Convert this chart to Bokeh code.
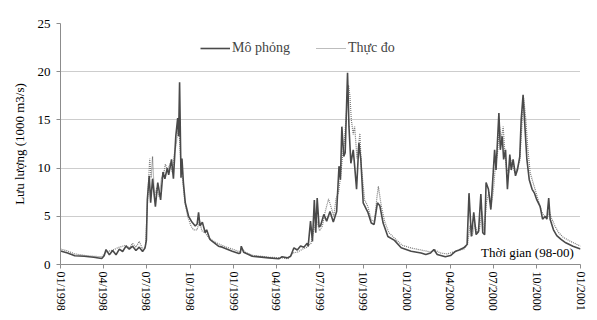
from bokeh.plotting import figure
from bokeh.models import ColumnDataSource, FixedTicker, Legend, LegendItem, Label
from bokeh.embed import file_html
from bokeh.resources import INLINE

# Days since 01/01/1998
sim_days = [0, 15, 30, 50, 70, 87, 92, 96, 103, 110, 117, 124, 131, 138, 145, 152, 159, 166, 173, 178,
            181, 183, 187, 190, 194, 200, 205, 211, 216, 220, 225, 228, 234, 238, 243, 247, 249, 251, 254,
            256, 259, 263, 270, 277, 284, 288, 291, 294, 299, 305, 308, 315, 320, 333, 341, 362, 376, 379,
            381, 386, 404, 439, 460, 467, 478, 485, 492, 499, 506, 513, 520, 522, 527, 531, 535, 538, 541,
            545, 548, 555, 561, 568, 575, 582, 587, 590, 593, 597, 600, 605, 608, 612, 617, 620, 624, 629,
            633, 638, 645, 648, 655, 661, 668, 673, 680, 690, 704, 718, 739, 760, 770, 780, 787, 794, 811,
            822, 833, 840, 850, 857, 861, 866, 871, 876, 881, 886, 890, 894, 897, 902, 907, 912, 915, 918,
            924, 927, 931, 934, 938, 942, 947, 950, 954, 959, 963, 968, 971, 975, 978, 983, 988, 994, 999,
            1004, 1011, 1016, 1022, 1025, 1029, 1032, 1039, 1046, 1055, 1065, 1080, 1096]
sim_vals = [1.4, 1.2, 0.9, 0.85, 0.75, 0.62, 0.9, 1.55, 1.0, 1.45, 1.0, 1.6, 1.35, 1.9, 1.6, 1.9, 1.45, 1.8, 1.35, 1.7,
            2.5, 6.7, 9.2, 6.4, 8.9, 6.0, 8.5, 6.7, 9.6, 8.9, 10.0, 9.3, 10.9, 8.9, 13.3, 15.2, 13.3, 18.9, 9.0,
            11.0, 8.5, 6.4, 5.0, 4.4, 4.0, 4.2, 5.4, 4.0, 4.4, 3.3, 3.6, 2.6, 2.4, 1.9, 1.8, 1.38, 1.14, 1.2,
            1.9, 1.28, 0.86, 0.69, 0.59, 0.8, 0.69, 0.86, 1.73, 1.5, 1.93, 1.8, 2.2, 1.9, 4.5, 2.4, 6.7, 3.3, 6.9,
            3.9, 4.0, 5.2, 4.5, 5.5, 4.4, 5.5, 10.2, 8.8, 14.3, 11.2, 11.6, 19.9, 14.3, 10.5, 11.9, 10.2, 7.8, 12.6,
            10.9, 6.4, 5.7, 5.4, 4.3, 4.15, 6.4, 6.1, 4.3, 2.9, 2.5, 1.73, 1.38, 1.2, 1.04, 1.2, 1.56, 1.04, 0.8,
            0.93, 1.38, 1.5, 1.73, 2.07, 7.4, 2.9, 5.4, 3.1, 3.4, 7.3, 3.3, 3.1, 8.5, 7.8, 5.7, 9.5, 11.9, 9.8,
            15.7, 11.9, 13.3, 10.9, 11.9, 7.8, 11.4, 9.8, 10.9, 9.2, 9.8, 11.2, 15.0, 17.6, 15.0, 10.9, 8.8, 7.8, 7.4,
            6.7, 6.0, 4.7, 5.0, 4.7, 6.9, 4.7, 3.6, 3.0, 2.6, 2.25, 1.9, 1.6]

obs_days = [0, 15, 30, 50, 70, 87, 96, 110, 124, 138, 145, 152, 159, 166, 173, 179, 182, 185, 188, 191, 194,
            198, 203, 208, 213, 218, 221, 226, 231, 236, 240, 244, 249, 253, 257, 262, 268, 275, 280, 288, 293,
            298, 305, 312, 320, 335, 350, 365, 378, 382, 388, 405, 440, 465, 480, 490, 500, 510, 520, 528, 535,
            540, 546, 552, 558, 565, 570, 576, 581, 586, 590, 594, 598, 603, 607, 610, 613, 617, 620, 625, 631,
            634, 641, 648, 655, 662, 667, 670, 676, 683, 692, 705, 720, 740, 760, 780, 790, 800, 815, 835, 850,
            858, 863, 868, 873, 878, 883, 888, 893, 898, 903, 908, 913, 917, 921, 925, 929, 933, 936, 940, 945,
            948, 953, 958, 963, 968, 972, 976, 980, 985, 990, 996, 1002, 1008, 1014, 1020, 1026, 1030, 1035, 1042,
            1050, 1060, 1075, 1096]
obs_vals = [1.6, 1.4, 1.1, 0.95, 0.85, 0.8, 1.3, 1.5, 1.8, 2.0, 1.7, 2.2, 1.8, 2.4, 1.6, 1.8, 5.0, 8.0, 11.0, 9.0, 11.2,
            7.0, 8.0, 7.0, 9.0, 9.5, 10.4, 9.8, 10.5, 9.5, 11.5, 12.5, 14.7, 11.2, 9.0, 6.5, 5.0, 4.0, 3.6, 3.6, 4.6,
            3.5, 3.3, 2.8, 2.5, 2.1, 1.8, 1.55, 1.3, 1.7, 1.3, 0.95, 0.75, 0.7, 0.6, 1.2, 1.3, 1.6, 1.8, 2.2, 3.8,
            4.6, 3.5, 4.0, 5.5, 6.8, 6.0, 5.0, 6.9, 7.5, 9.0, 11.0, 12.5, 16.0, 18.6, 17.5, 15.0, 13.5, 14.3, 11.0, 13.6,
            10.2, 6.7, 6.0, 4.6, 4.5, 7.0, 8.1, 6.1, 4.5, 3.3, 2.7, 2.0, 1.7, 1.5, 1.3, 1.5, 1.2, 1.1, 1.4, 1.6,
            2.1, 4.0, 3.0, 4.2, 3.3, 3.6, 5.5, 3.5, 6.5, 7.5, 6.0, 8.0, 10.5, 11.5, 14.5, 13.0, 14.3, 12.0, 10.0, 9.5,
            11.0, 10.3, 9.5, 10.0, 10.8, 14.0, 17.3, 15.5, 12.0, 9.5, 8.5, 7.5, 6.5, 5.5, 5.0, 4.8, 5.5, 4.8, 4.0,
            3.3, 2.8, 2.4, 1.9]

tick_days = [0, 90, 181, 273, 365, 455, 546, 638, 730, 821, 912, 1004, 1096]
tick_labels = ["01/1998", "04/1998", "07/1998", "10/1998", "01/1999", "04/1999", "07/1999",
               "10/1999", "01/2000", "04/2000", "07/2000", "10/2000", "01/2001"]

FONT = "Liberation Serif"

p = figure(width=589, height=318, output_backend="svg", toolbar_location=None,
           x_range=(0, 1096), y_range=(0, 25),
           min_border_left=60, min_border_right=9, min_border_top=23, min_border_bottom=54)
p.outline_line_color = None
p.background_fill_color = "white"

sim_src = ColumnDataSource(dict(x=sim_days, y=sim_vals))
obs_src = ColumnDataSource(dict(x=obs_days, y=obs_vals))

r_obs = p.line("x", "y", source=obs_src, line_color="#7a7a7a", line_width=1.2, line_dash="1 1")
r_sim = p.line("x", "y", source=sim_src, line_color="#4a4a4a", line_width=1.6)

# axes
p.xaxis.ticker = FixedTicker(ticks=tick_days)
p.xaxis.major_label_overrides = {d: l for d, l in zip(tick_days, tick_labels)}
p.xaxis.major_label_orientation = "vertical"
p.xaxis.minor_tick_line_color = None
p.xaxis.major_tick_in = 0
p.xaxis.major_tick_out = 4
p.xaxis.axis_line_color = "#8c8c8c"
p.xaxis.major_tick_line_color = "#8c8c8c"
p.xaxis.major_label_text_font = FONT
p.xaxis.major_label_text_font_size = "12px"
p.xaxis.major_label_text_color = "black"
p.xaxis.major_label_standoff = 3

p.yaxis.ticker = FixedTicker(ticks=[0, 5, 10, 15, 20, 25])
p.yaxis.minor_tick_line_color = None
p.yaxis.major_tick_in = 0
p.yaxis.major_tick_out = 4
p.yaxis.axis_line_color = "#8c8c8c"
p.yaxis.major_tick_line_color = "#8c8c8c"
p.yaxis.major_label_text_font = FONT
p.yaxis.major_label_text_font_size = "13px"
p.yaxis.major_label_text_color = "black"
p.yaxis.major_label_standoff = 6
p.yaxis.axis_label = "Lưu lượng (1000 m3/s)"
p.yaxis.axis_label_text_font = FONT
p.yaxis.axis_label_text_font_size = "13px"
p.yaxis.axis_label_text_font_style = "normal"
p.yaxis.axis_label_text_color = "black"
p.yaxis.axis_label_standoff = 8

p.xgrid.grid_line_color = None
p.ygrid.grid_line_color = "#9a9a9a"
p.ygrid.grid_line_dash = "1 1"
p.ygrid.grid_line_width = 1

legend = Legend(items=[LegendItem(label="Mô phỏng", renderers=[r_sim]),
                       LegendItem(label="Thực đo", renderers=[r_obs])],
                orientation="horizontal", location=(140, 208),
                glyph_width=30, glyph_height=12, label_standoff=2, spacing=26,
                label_text_font=FONT, label_text_font_size="14px",
                border_line_color=None, background_fill_alpha=0,
                padding=2, margin=0)
p.add_layout(legend)

p.add_layout(Label(x=1082, y=0.5, text="Thời gian (98-00)", text_align="right",
                   text_baseline="bottom", text_font=FONT, text_font_size="13px",
                   text_color="black"))

open("out.html", "w").write(file_html(p, INLINE))
